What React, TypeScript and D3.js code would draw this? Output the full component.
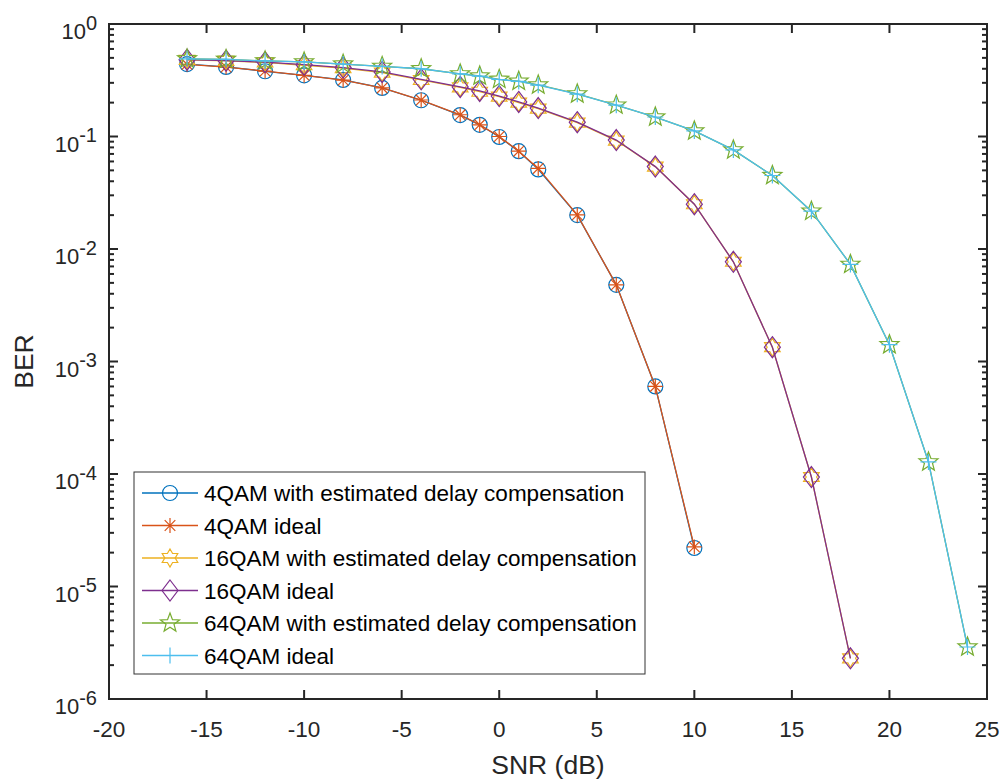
import React from "react";
import * as d3 from "d3";

const snr4 = [-16, -14, -12, -10, -8, -6, -4, -2, -1, 0, 1, 2, 4, 6, 8, 10];
const snr16 = [-16, -14, -12, -10, -8, -6, -4, -2, -1, 0, 1, 2, 4, 6, 8, 10, 12, 14, 16, 18];
const snr64 = [-16, -14, -12, -10, -8, -6, -4, -2, -1, 0, 1, 2, 4, 6, 8, 10, 12, 14, 16, 18, 20, 22, 24];

const ber4Est = [0.44, 0.415, 0.38, 0.35, 0.318, 0.27, 0.21, 0.155, 0.127, 0.099, 0.074, 0.051, 0.02, 0.0048, 0.0006, 2.2e-5];
const ber4Ideal = [0.438, 0.414, 0.381, 0.35, 0.317, 0.27, 0.211, 0.156, 0.127, 0.1, 0.074, 0.052, 0.0201, 0.0048, 0.0006, 2.25e-5];
const ber16Est = [0.48, 0.47, 0.455, 0.43, 0.405, 0.37, 0.318, 0.273, 0.25, 0.226, 0.2, 0.177, 0.133, 0.092, 0.054, 0.025, 0.0077, 0.00134, 9.4e-5, 2.3e-6];
const ber16Ideal = [0.482, 0.472, 0.458, 0.435, 0.41, 0.375, 0.322, 0.276, 0.254, 0.229, 0.203, 0.179, 0.134, 0.093, 0.054, 0.025, 0.0077, 0.00134, 9.4e-5, 2.3e-6];
const ber64Est = [0.49, 0.485, 0.47, 0.46, 0.44, 0.42, 0.4, 0.36, 0.345, 0.322, 0.31, 0.287, 0.239, 0.19, 0.149, 0.112, 0.076, 0.045, 0.0217, 0.0073, 0.00141, 0.000128, 2.9e-6];
const ber64Ideal = [0.49, 0.484, 0.47, 0.46, 0.44, 0.42, 0.4, 0.36, 0.344, 0.321, 0.309, 0.286, 0.238, 0.19, 0.149, 0.112, 0.076, 0.045, 0.0217, 0.0073, 0.00141, 0.000128, 2.9e-6];

const seriesNames = [
  "4QAM with estimated delay compensation",
  "4QAM ideal",
  "16QAM with estimated delay compensation",
  "16QAM ideal",
  "64QAM with estimated delay compensation",
  "64QAM ideal",
];
const xTicks = [-20, -15, -10, -5, 0, 5, 10, 15, 20, 25];
const yExponents = [0, -1, -2, -3, -4, -5, -6];

const colors = ["#0072BD", "#D95319", "#EDB120", "#7E2F8E", "#77AC30", "#4DBEEE"];
const markers = ["circle", "asterisk", "hexagram", "diamond", "pentagram", "plus"];

const series = [
  { x: snr4, y: ber4Est },
  { x: snr4, y: ber4Ideal },
  { x: snr16, y: ber16Est },
  { x: snr16, y: ber16Ideal },
  { x: snr64, y: ber64Est },
  { x: snr64, y: ber64Ideal },
];

const W = 1004, H = 782;
const L = 109, R = 987, T = 24, B = 699;
const ink = "#262626";
const font = "'Liberation Sans', Arial, sans-serif";

function starPath(n: number, ro: number, ri: number, rot = -Math.PI / 2) {
  const pts: [number, number][] = [];
  for (let i = 0; i < 2 * n; i++) {
    const a = rot + (i * Math.PI) / n;
    const r = i % 2 === 0 ? ro : ri;
    pts.push([r * Math.cos(a), r * Math.sin(a)]);
  }
  return "M" + pts.map((p) => p[0].toFixed(2) + "," + p[1].toFixed(2)).join("L") + "Z";
}

function Marker({ type, color, cx, cy }: { type: string; color: string; cx: number; cy: number }) {
  const common = { fill: "none", stroke: color, strokeWidth: 1.2 };
  const t = `translate(${cx},${cy})`;
  switch (type) {
    case "circle":
      return <circle cx={cx} cy={cy} r={7.5} {...common} />;
    case "asterisk": {
      const r = 7.5;
      const d = [0, 45, 90, 135]
        .map((deg) => {
          const a = (deg * Math.PI) / 180;
          return `M${-r * Math.cos(a)},${-r * Math.sin(a)}L${r * Math.cos(a)},${r * Math.sin(a)}`;
        })
        .join("");
      return <path transform={t} d={d} {...common} />;
    }
    case "hexagram":
      return <path transform={t} d={starPath(6, 9, 5.2)} {...common} />;
    case "pentagram":
      return <path transform={t} d={starPath(5, 10, 4.2)} {...common} />;
    case "diamond":
      return <path transform={t} d="M0,-10.5L8,0L0,10.5L-8,0Z" {...common} />;
    case "plus":
      return <path transform={t} d="M-8,0L8,0M0,-8L0,8" {...common} />;
  }
  return null;
}

export default function App() {
  const x = d3.scaleLinear().domain([-20, 25]).range([L, R]);
  const y = d3.scaleLog().domain([1e-6, 1]).range([B, T]);
  const line = d3
    .line<[number, number]>()
    .x((d) => x(d[0]))
    .y((d) => y(d[1]));

  const minorTicks: number[] = [];
  for (let e = -6; e < 0; e++) for (let m = 2; m <= 9; m++) minorTicks.push(m * Math.pow(10, e));

  const legX = 134, legY = 472, legW = 511, legH = 202, rowH = 32.5;

  return (
    <svg width={W} height={H} style={{ display: "block", position: "absolute", left: 0, top: 0 }} fontFamily={font}>
      <rect width={W} height={H} fill="#fff" />
      {/* data */}
      {series.map((s, i) => {
        const pts = s.x.map((v, j) => [v, s.y[j]] as [number, number]);
        return (
          <g key={i}>
            <path d={line(pts) || ""} fill="none" stroke={colors[i]} strokeWidth={1.3} />
            {pts.map((p, j) => (
              <Marker key={j} type={markers[i]} color={colors[i]} cx={x(p[0])} cy={y(p[1])} />
            ))}
          </g>
        );
      })}
      {/* axes box */}
      <rect x={L} y={T} width={R - L} height={B - T} fill="none" stroke={ink} strokeWidth={2} />
      {/* x ticks */}
      {xTicks.map((v) => (
        <g key={v}>
          <line x1={x(v)} x2={x(v)} y1={B} y2={B - 9} stroke={ink} strokeWidth={2} />
          <line x1={x(v)} x2={x(v)} y1={T} y2={T + 9} stroke={ink} strokeWidth={2} />
          <text x={x(v)} y={736.5} textAnchor="middle" fontSize={22.5} fill={ink}>
            {v}
          </text>
        </g>
      ))}
      {/* y ticks */}
      {yExponents.map((e) => (
        <g key={e}>
          <line x1={L} x2={L + 9} y1={y(Math.pow(10, e))} y2={y(Math.pow(10, e))} stroke={ink} strokeWidth={2} />
          <line x1={R} x2={R - 9} y1={y(Math.pow(10, e))} y2={y(Math.pow(10, e))} stroke={ink} strokeWidth={2} />
          <text x={97} y={y(Math.pow(10, e)) + 15} textAnchor="end" fontSize={22} fill={ink}>
            10
            <tspan dy={-9.5} fontSize={20}>
              {e}
            </tspan>
          </text>
        </g>
      ))}
      {minorTicks.map((v, i) => (
        <g key={i}>
          <line x1={L} x2={L + 5} y1={y(v)} y2={y(v)} stroke={ink} strokeWidth={2} />
          <line x1={R} x2={R - 5} y1={y(v)} y2={y(v)} stroke={ink} strokeWidth={2} />
        </g>
      ))}
      {/* axis labels */}
      <text x={(L + R) / 2} y={774} textAnchor="middle" fontSize={26.5} fill={ink}>
        SNR (dB)
      </text>
      <text transform={`translate(32.5,${(T + B) / 2}) rotate(-90)`} textAnchor="middle" fontSize={26.5} fill={ink}>
        BER
      </text>
      {/* legend */}
      <rect x={legX} y={legY} width={legW} height={legH} fill="#fff" stroke="#333" strokeWidth={1} />
      {seriesNames.map((name, i) => {
        const cy = legY + 21 + i * rowH;
        return (
          <g key={name}>
            <line x1={142} x2={198} y1={cy} y2={cy} stroke={colors[i]} strokeWidth={1.3} />
            <Marker type={markers[i]} color={colors[i]} cx={170} cy={cy} />
            <text x={204} y={cy + 8} fontSize={22.5} fill="#000">
              {name}
            </text>
          </g>
        );
      })}
    </svg>
  );
}
